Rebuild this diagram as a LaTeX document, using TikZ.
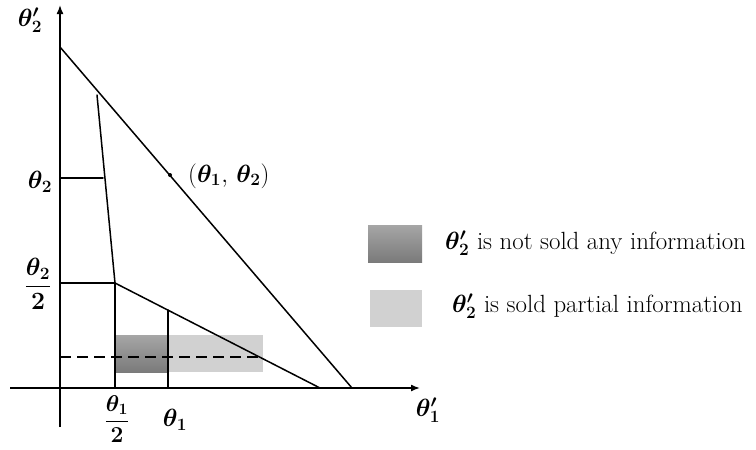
\documentclass[tikz,border=0pt]{standalone}
\usepackage{amsmath,bm}
\usetikzlibrary{arrows.meta}
\newcommand{\lblsc}[1]{\scalebox{1.2}{#1}}
\begin{document}
\begin{tikzpicture}[x=1pt,y=-1pt,
  ln/.style={line width=1.5pt, line cap=round},
  ax/.style={line width=1.5pt, -{Latex[length=9pt,width=7pt]}},
  lbl/.style={inner sep=0pt, font=\huge},
  darkbox/.style={top color=black!35, bottom color=black!52, draw=none},
  lightbox/.style={fill=black!18, draw=none}]
\useasboundingbox (0,0) rectangle (756,450);
% shaded regions
\fill[darkbox] (115,335) rectangle (168,372);
\fill[lightbox] (168,335) rectangle (263,372);
% axes
\coordinate (yb) at (60,427);
\coordinate (yt) at (60,5);
\coordinate (xl) at (10,388);
\coordinate (xr) at (420,388);
\draw[ax] (yb) -- (yt);
\draw[ax] (xl) -- (xr);
% outer line
\coordinate (o1) at (60,47);
\coordinate (o2) at (352,388);
\draw[ln] (o1) -- (o2);
% inner curve
\coordinate (i1) at (97,95);
\coordinate (i2) at (115,283);
\coordinate (i3) at (320,388);
\draw[ln] (i1) -- (i2) -- (i3);
% ticks
\coordinate (t2a) at (60,178);
\coordinate (t2b) at (103,178);
\draw[ln] (t2a) -- (t2b);
\coordinate (h2a) at (60,283);
\draw[ln] (h2a) -- (i2);
\coordinate (h1b) at (115,388);
\draw[ln] (i2) -- (h1b);
\coordinate (v1a) at (168,310);
\coordinate (v1b) at (168,388);
\draw[ln] (v1a) -- (v1b);
% dashed
\coordinate (da) at (60,357);
\coordinate (db) at (259,357);
\draw[line width=2pt, dash pattern=on 11pt off 6pt] (da) -- (db);
% point
\fill (170,175) circle (2pt) coordinate (pt);
\node[lbl, anchor=west] (ptl) at (188,176) {\lblsc{$(\bm{\theta_1},\,\bm{\theta_2})$}};
% axis labels
\node[lbl] (y2) at (30,20) {\lblsc{$\bm{\theta'_2}$}};
\node[lbl] (x1) at (428,410) {\lblsc{$\bm{\theta'_1}$}};
\node[lbl] (th2) at (40,182) {\lblsc{$\bm{\theta_2}$}};
\node[lbl] (th2h) at (38,284) {\lblsc{$\dfrac{\bm{\theta_2}}{\mathbf{2}}$}};
\node[lbl] (th1h) at (117,419) {\scalebox{1.1}{$\dfrac{\bm{\theta_1}}{\mathbf{2}}$}};
\node[lbl] (th1) at (175,420) {\lblsc{$\bm{\theta_1}$}};
% legend
\fill[darkbox] (368,225) rectangle (422,262);
\node[lbl, anchor=west] (leg1) at (445,243) {\lblsc{$\bm{\theta'_2}$ is not sold any information}};
\fill[lightbox] (370,290) rectangle (422,327);
\node[lbl, anchor=west] (leg2) at (452,306) {\lblsc{$\bm{\theta'_2}$ is sold partial information}};
\end{tikzpicture}
\end{document}
